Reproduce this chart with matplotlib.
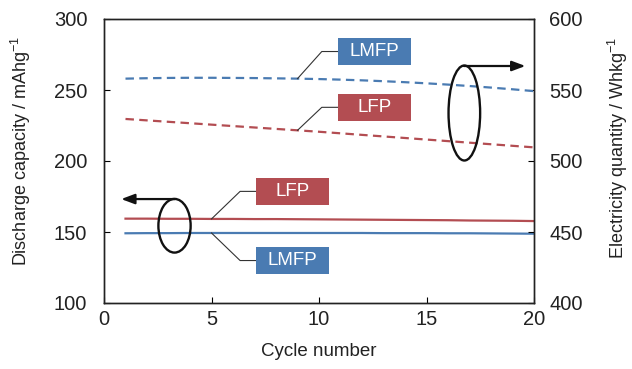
import numpy as np
import matplotlib
matplotlib.use("Agg")
import matplotlib.pyplot as plt
from matplotlib.patches import Ellipse, Rectangle

plt.rcParams["font.family"] = ["Liberation Sans", "DejaVu Sans"]
plt.rcParams["mathtext.fontset"] = "custom"
plt.rcParams["mathtext.rm"] = "Liberation Sans"
plt.rcParams["text.color"] = "#222222"
plt.rcParams["axes.labelcolor"] = "#222222"
plt.rcParams["xtick.labelcolor"] = "#222222"
plt.rcParams["ytick.labelcolor"] = "#222222"

# Cycle data
cycles = np.arange(1, 21)

# Discharge capacity (mAh/g), left axis
cap_lfp = [159.4, 159.4, 159.3, 159.3, 159.2, 159.2, 159.1, 159.1, 159.0, 158.9,
           158.8, 158.7, 158.6, 158.5, 158.4, 158.3, 158.1, 158.0, 157.9, 157.7]
cap_lmfp = [149.1, 149.2, 149.2, 149.3, 149.3, 149.3, 149.3, 149.3, 149.3, 149.3,
            149.3, 149.3, 149.2, 149.2, 149.2, 149.1, 149.1, 149.0, 148.9, 148.8]

# Electricity quantity (Wh/kg), right axis
en_lmfp = [558.0, 558.3, 558.5, 558.6, 558.6, 558.5, 558.4, 558.2, 558.0, 557.7,
           557.3, 556.8, 556.2, 555.5, 554.7, 553.8, 552.8, 551.7, 550.5, 549.2]
en_lfp = [529.6, 528.6, 527.6, 526.6, 525.6, 524.6, 523.6, 522.6, 521.6, 520.6,
          519.5, 518.4, 517.3, 516.2, 515.1, 514.0, 512.9, 511.8, 510.7, 509.6]

blue = "#4a7bb2"
red = "#b34d52"
fs_tick = 14.5
fs_lab = 13.0
fs_box = 13.5

fig = plt.figure(figsize=(6.32, 3.69), dpi=100)
ax = fig.add_axes([104 / 632, 1 - 303 / 369, 430 / 632, 284 / 369])
ax2 = ax.twinx()

ax.plot(cycles, cap_lfp, color=red, lw=1.6)
ax.plot(cycles, cap_lmfp, color=blue, lw=1.6)
ax2.plot(cycles, en_lmfp, color=blue, lw=1.6, dashes=(3.8, 2.4))
ax2.plot(cycles, en_lfp, color=red, lw=1.6, dashes=(3.8, 2.4))

ax.set_xlim(0, 20)
ax.set_ylim(100, 300)
ax2.set_ylim(400, 600)
ax.set_xticks([0, 5, 10, 15, 20])
ax.set_yticks([100, 150, 200, 250, 300])
ax2.set_yticks([400, 450, 500, 550, 600])

ax.tick_params(axis="x", direction="in", length=4, pad=5, labelsize=fs_tick)
ax.tick_params(axis="y", direction="in", length=4, pad=12, labelsize=fs_tick)
ax2.tick_params(axis="y", direction="in", length=4, pad=11, labelsize=fs_tick)
for a in (ax, ax2):
    for s in a.spines.values():
        s.set_linewidth(1.0)
        s.set_color("#222222")

ax.set_xlabel("Cycle number", fontsize=13.5, labelpad=10)
ax.set_ylabel("Discharge capacity / mAhg$^{-1}$", fontsize=fs_lab)
ax2.set_ylabel("Electricity quantity / Whkg$^{-1}$", fontsize=fs_lab)
ax.yaxis.set_label_coords(-0.165, 0.536)
ax2.yaxis.set_label_coords(1.167, 0.545)


def tag(axis, x0, x1, y0, y1, text, color, knee_x, px, py):
    # coloured label box with a bent leader line to the curve
    axis.add_patch(Rectangle((x0, y0), x1 - x0, y1 - y0, facecolor=color,
                             edgecolor="none", zorder=5))
    axis.text((x0 + x1) / 2, (y0 + y1) / 2, text, color="white", fontsize=fs_box,
              ha="center", va="center", zorder=6)
    ym = (y0 + y1) / 2
    axis.plot([x0, knee_x, px], [ym, ym, py], color="#333333", lw=0.8, zorder=4)


tag(ax2, 10.88, 14.28, 567.6, 586.6, "LMFP", blue, 10.13, cycles[8], en_lmfp[8])
tag(ax2, 10.88, 14.28, 528.4, 547.2, "LFP", red, 10.13, cycles[8], en_lfp[8])
tag(ax, 7.07, 10.45, 169.2, 188.0, "LFP", red, 6.33, cycles[4], cap_lfp[4])
tag(ax, 7.07, 10.45, 120.6, 139.2, "LMFP", blue, 6.33, cycles[4], cap_lmfp[4])

# ellipses with arrows pointing to the matching axis
ax2.add_patch(Ellipse((16.76, 533.8), 1.47, 66.9, fill=False, lw=1.7,
                      edgecolor="#111111", zorder=6))
ax2.annotate("", xy=(19.6, 566.9), xytext=(16.74, 566.9),
             arrowprops=dict(arrowstyle="-|>,head_length=0.8,head_width=0.3",
                             color="#111111", lw=1.6, shrinkA=0, shrinkB=0), zorder=6)
ax.add_patch(Ellipse((3.28, 154.4), 1.50, 37.8, fill=False, lw=1.7,
                     edgecolor="#111111", zorder=6))
ax.annotate("", xy=(0.8, 173.2), xytext=(3.30, 173.2),
            arrowprops=dict(arrowstyle="-|>,head_length=0.8,head_width=0.3",
                            color="#111111", lw=1.6, shrinkA=0, shrinkB=0), zorder=6)

fig.savefig("out.png", dpi=100)
